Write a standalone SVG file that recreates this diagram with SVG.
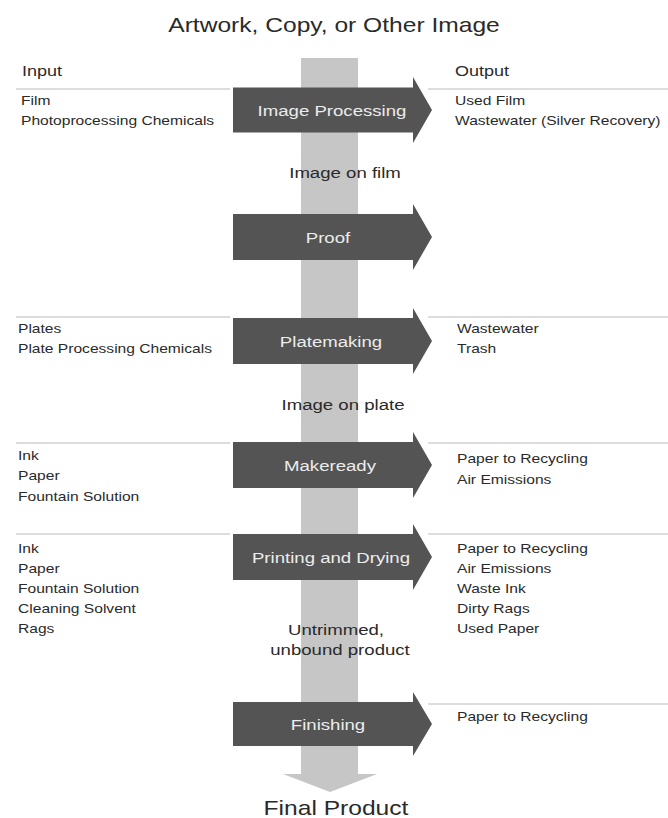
<svg xmlns="http://www.w3.org/2000/svg" width="668" height="818" viewBox="0 0 668 818">
<style>
  text { font-family: "Liberation Sans", Arial, sans-serif; fill: #2a2a2a; }
  .title { font-size: 20.5px; text-anchor: middle; }
  .head { font-size: 15px; }
  .item { font-size: 13px; }
  .mid { font-size: 15.5px; text-anchor: middle; }
  .proc { fill: #545454; }
  .plabel { font-size: 15.5px; text-anchor: middle; fill: #ececec; }
  .rule { stroke: #d2d2d2; stroke-width: 1.5; fill: none; }
  .flow { fill: #c6c6c6; }
</style>
<rect x="0" y="0" width="668" height="818" fill="#ffffff"/>

<g id="connectors">
  <path class="flow" d="M301,58 H358 V774 H377 L330,792 L283,774 H301 Z"/>
</g>

<g id="rules">
  <path class="rule" d="M16,89 H230 M428,89 H668 M16,317 H230 M428,317 H668 M16,443 H230 M428,443 H668 M16,534 H230 M428,534 H668 M428,704 H668"/>
</g>

<g id="title"><text class="title" transform="translate(334,32) scale(1.2,1)">Artwork, Copy, or Other Image</text></g>
<g id="input-header"><text class="head" transform="translate(22,76) scale(1.2,1)">Input</text></g>
<g id="output-header"><text class="head" transform="translate(455,76) scale(1.2,1)">Output</text></g>

<g id="image-processing">
  <path class="proc" d="M233,87.5 H413 V77 L432,110 L413,143 V132.5 H233 Z"/>
  <text class="plabel" transform="translate(332,115.5) scale(1.2,1)">Image Processing</text>
</g>
<g id="image-processing-inputs">
  <text class="item" transform="translate(21,105) scale(1.2,1)">Film</text>
  <text class="item" transform="translate(21,125) scale(1.2,1)">Photoprocessing Chemicals</text>
</g>
<g id="image-processing-outputs">
  <text class="item" transform="translate(455,105) scale(1.2,1)">Used Film</text>
  <text class="item" transform="translate(455,125) scale(1.2,1)">Wastewater (Silver Recovery)</text>
</g>

<g id="image-on-film"><text class="mid" transform="translate(345,178) scale(1.2,1)">Image on film</text></g>

<g id="proof">
  <path class="proc" d="M233,214 H413 V204 L432,237 L413,270 V260 H233 Z"/>
  <text class="plabel" transform="translate(328,242.5) scale(1.2,1)">Proof</text>
</g>

<g id="platemaking">
  <path class="proc" d="M233,318 H413 V308 L432,341 L413,374 V364 H233 Z"/>
  <text class="plabel" transform="translate(331,346.5) scale(1.2,1)">Platemaking</text>
</g>
<g id="platemaking-inputs">
  <text class="item" transform="translate(18,333) scale(1.2,1)">Plates</text>
  <text class="item" transform="translate(18,353) scale(1.2,1)">Plate Processing Chemicals</text>
</g>
<g id="platemaking-outputs">
  <text class="item" transform="translate(457,333) scale(1.2,1)">Wastewater</text>
  <text class="item" transform="translate(457,353) scale(1.2,1)">Trash</text>
</g>

<g id="image-on-plate"><text class="mid" transform="translate(343,410) scale(1.2,1)">Image on plate</text></g>

<g id="makeready">
  <path class="proc" d="M233,442 H413 V432 L432,465 L413,498 V488 H233 Z"/>
  <text class="plabel" transform="translate(330,470.5) scale(1.2,1)">Makeready</text>
</g>
<g id="makeready-inputs">
  <text class="item" transform="translate(18,460) scale(1.2,1)">Ink</text>
  <text class="item" transform="translate(18,480) scale(1.2,1)">Paper</text>
  <text class="item" transform="translate(18,501) scale(1.2,1)">Fountain Solution</text>
</g>
<g id="makeready-outputs">
  <text class="item" transform="translate(457,463) scale(1.2,1)">Paper to Recycling</text>
  <text class="item" transform="translate(457,484) scale(1.2,1)">Air Emissions</text>
</g>

<g id="printing-and-drying">
  <path class="proc" d="M233,534 H413 V524 L432,557 L413,590 V580 H233 Z"/>
  <text class="plabel" transform="translate(331,562.5) scale(1.2,1)">Printing and Drying</text>
</g>
<g id="printing-inputs">
  <text class="item" transform="translate(18,553) scale(1.2,1)">Ink</text>
  <text class="item" transform="translate(18,573) scale(1.2,1)">Paper</text>
  <text class="item" transform="translate(18,593) scale(1.2,1)">Fountain Solution</text>
  <text class="item" transform="translate(18,613) scale(1.2,1)">Cleaning Solvent</text>
  <text class="item" transform="translate(18,633) scale(1.2,1)">Rags</text>
</g>
<g id="printing-outputs">
  <text class="item" transform="translate(457,553) scale(1.2,1)">Paper to Recycling</text>
  <text class="item" transform="translate(457,573) scale(1.2,1)">Air Emissions</text>
  <text class="item" transform="translate(457,593) scale(1.2,1)">Waste Ink</text>
  <text class="item" transform="translate(457,613) scale(1.2,1)">Dirty Rags</text>
  <text class="item" transform="translate(457,633) scale(1.2,1)">Used Paper</text>
</g>

<g id="untrimmed-product">
  <text class="mid" transform="translate(336,635) scale(1.2,1)">Untrimmed,</text>
  <text class="mid" transform="translate(340,655) scale(1.2,1)">unbound product</text>
</g>

<g id="finishing">
  <path class="proc" d="M233,702 H413 V692 L432,724 L413,756 V746 H233 Z"/>
  <text class="plabel" transform="translate(328,729.5) scale(1.2,1)">Finishing</text>
</g>
<g id="finishing-outputs">
  <text class="item" transform="translate(457,721) scale(1.2,1)">Paper to Recycling</text>
</g>

<g id="final-product"><text class="title" transform="translate(336,815) scale(1.2,1)">Final Product</text></g>
</svg>
